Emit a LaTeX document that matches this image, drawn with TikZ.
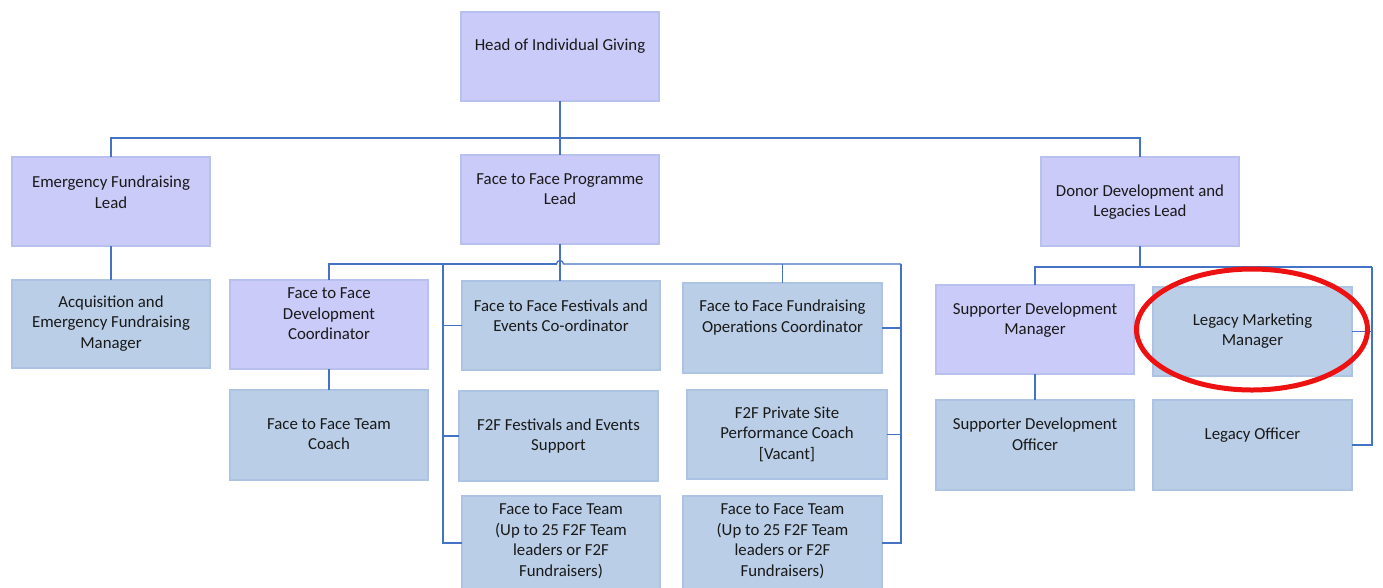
\documentclass[tikz,border=0pt]{standalone}
\usepackage{fontspec}
\setmainfont{Carlito}
\usetikzlibrary{shapes.geometric}
\definecolor{purfill}{HTML}{CBCBFA}
\definecolor{purdraw}{HTML}{B8C0EE}
\definecolor{blufill}{HTML}{BACEE7}
\definecolor{bludraw}{HTML}{ADC3E4}
\definecolor{conn}{HTML}{4472C4}
\definecolor{hlred}{HTML}{EE1111}
\tikzset{
  purbox/.style={draw=purdraw, fill=purfill, line width=2pt, inner sep=0pt, outer sep=0pt},
  blubox/.style={draw=bludraw, fill=blufill, line width=2pt, inner sep=0pt, outer sep=0pt},
  txt/.style={align=center, inner sep=0pt, font=\fontsize{16.8}{20.5}\selectfont, text=black!90},
  link/.style={draw=conn, line width=1.3pt},
}
\newcommand{\orgbox}[8]{%
  \node[#2, minimum width={(#5-#3)*1pt}, minimum height={(#6-#4)*1pt}] (#1) at ({(#3+#5)/2},{(#4+#6)/2}) {};
  \node[txt] (#1-t) at ({(#3+#5)/2},#7) {#8};
}
\begin{document}
\begin{tikzpicture}[x=1pt,y=-1pt]
\useasboundingbox (0,0) rectangle (1383,587);
\clip (0,0) rectangle (1383,587);
\fill[white] (0,0) rectangle (1383,587);

\coordinate (bus1) at (560,138);
\coordinate (hopL) at (556.5,264);
\coordinate (lb) at (443,264);
\coordinate (rb) at (901,264);
\coordinate (bus3) at (1140,267);
\coordinate (rb3) at (1372,267);

% boxes
\orgbox{head}{purbox}{461}{12}{659}{101}{46}{Head of Individual Giving}
\orgbox{emerg}{purbox}{12}{157}{210}{246}{192}{Emergency Fundraising\\Lead}
\orgbox{fpl}{purbox}{461}{155}{659}{244}{189}{Face to Face Programme\\Lead}
\orgbox{donor}{purbox}{1041}{157}{1239}{246}{202}{Donor Development and\\Legacies Lead}
\orgbox{acq}{blubox}{12}{280}{210}{368}{323.5}{Acquisition and\\Emergency Fundraising\\Manager}
\orgbox{dev}{purbox}{230}{280}{428}{369}{314}{Face to Face\\Development\\Coordinator}
\orgbox{coach}{blubox}{230}{390}{428}{480}{434}{Face to Face Team\\Coach}
\orgbox{fest}{blubox}{462}{281}{660}{370}{315.5}{Face to Face Festivals and\\Events Co-ordinator}
\orgbox{supp}{blubox}{459}{391}{658}{481}{436}{F2F Festivals and Events\\Support}
\orgbox{teamL}{blubox}{462}{496}{660}{590}{541.5}{Face to Face Team\\(Up to 25 F2F Team\\leaders or F2F\\Fundraisers)}
\orgbox{ops}{blubox}{683}{283}{882}{373}{317.5}{Face to Face Fundraising\\Operations Coordinator}
\orgbox{priv}{blubox}{687}{390}{887}{479}{434}{F2F Private Site\\Performance Coach\\[0pt][Vacant]}
\orgbox{teamR}{blubox}{683}{496}{882}{590}{541.5}{Face to Face Team\\(Up to 25 F2F Team\\leaders or F2F\\Fundraisers)}
\orgbox{sdm}{purbox}{936}{285}{1134}{374}{320}{Supporter Development\\Manager}
\orgbox{lmm}{blubox}{1153}{287}{1352}{376}{331}{Legacy Marketing\\Manager}
\orgbox{sdo}{blubox}{936}{400}{1134}{490}{434}{Supporter Development\\Officer}
\orgbox{lof}{blubox}{1153}{400}{1352}{490}{435}{Legacy Officer}

% top level
\draw[link] (head.south) -- (fpl.north);
\draw[link] (emerg.north) |- (bus1) -| (donor.north);
\draw[link] (emerg.south) -- (acq.north);
% face to face
\draw[link] (dev.north) |- (hopL);
\draw[link] (hopL) arc (180:360:3.5) -- (rb);
\draw[link] (fpl.south) -- (fpl.south |- fest.north);
\draw[link] (dev.south) -- (coach.north);
\draw[link] (lb) |- (teamL.west);
\draw[link] (lb |- fest.west) -- (fest.west);
\draw[link] (lb |- supp.west) -- (supp.west);
\draw[link] (ops.north) -- (ops.north |- rb);
\draw[link] (rb) |- (teamR.east);
\draw[link] (rb |- ops.east) -- (ops.east);
\draw[link] (rb |- priv.east) -- (priv.east);
% donor development
\draw[link] (donor.south) -- (bus3);
\draw[link] (sdm.north) |- (bus3) -- (rb3);
\draw[link] (rb3) |- (lof.east);
\draw[link] (rb3 |- lmm.east) -- (lmm.east);
\draw[link] (sdm.south) -- (sdo.north);

% highlight
\node[ellipse, draw=hlred, line width=5pt, minimum width=231pt, minimum height=121pt, inner sep=0pt] (hl) at (1252,329.5) {};
\end{tikzpicture}
\end{document}
